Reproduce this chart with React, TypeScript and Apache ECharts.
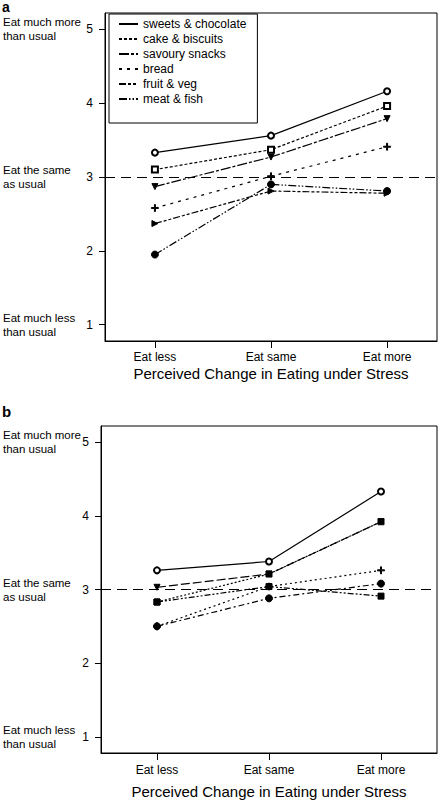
import React, { useEffect, useRef } from "react";
import * as echarts from "echarts";

// ---------- data ----------
const categories = ["Eat less", "Eat same", "Eat more"];
const yTickValues = [1, 2, 3, 4, 5];
const yDescriptorValues = [1, 3, 5];
const yDescriptorLabels = ["Eat much less\nthan usual", "Eat the same\nas usual", "Eat much more\nthan usual"];
const xTitle = "Perceived Change in Eating under Stress";
const panelLabels = ["a", "b"];
const referenceLevel = 3;

// panel a
const seriesNamesA = ["sweets & chocolate", "cake & biscuits", "savoury snacks", "bread", "fruit & veg", "meat & fish"];
const sweetsA = [3.33, 3.56, 4.16];
const cakeA = [3.1, 3.37, 3.96];
const savouryA = [2.87, 3.27, 3.79];
const breadA = [2.58, 3.01, 3.41];
const fruitA = [2.37, 2.81, 2.78];
const meatA = [1.95, 2.9, 2.81];

// panel b
const seriesNamesB = ["b1", "b2", "b3", "b4", "b5", "b6"];
const b1 = [3.26, 3.38, 4.33];
const b2 = [3.03, 3.21, 3.92];
const b3 = [2.5, 3.04, 3.26];
const b4 = [2.5, 2.88, 3.08];
const b5 = [2.83, 3.04, 2.91];
const b6 = [2.83, 3.21, 3.92];

// ---------- styles ----------
const FONT = "Liberation Sans, Arial, sans-serif";
const PLUS = "path://M3,0H4V3H7V4H4V7H3V4H0V3H3Z";

type Sty = { dash: any; symbol: string; size: number; rotate?: number };
const stylesA: Sty[] = [
  { dash: "solid", symbol: "emptyCircle", size: 6 },
  { dash: [3, 2], symbol: "emptyRect", size: 6 },
  { dash: [10, 2, 3, 2], symbol: "triangle", size: 6, rotate: 180 },
  { dash: [3, 5], symbol: PLUS, size: 7 },
  { dash: [7, 2, 3, 2, 3, 2], symbol: "triangle", size: 6, rotate: -90 },
  { dash: [8, 2, 1.5, 2, 1.5, 2], symbol: "circle", size: 7 },
];
const stylesB: Sty[] = [
  { dash: "solid", symbol: "emptyCircle", size: 6 },
  { dash: [9, 3], symbol: "triangle", size: 6, rotate: 180 },
  { dash: [2, 3], symbol: PLUS, size: 7 },
  { dash: [6, 3, 2, 3], symbol: "circle", size: 7 },
  { dash: [6, 2, 2, 2, 2, 2], symbol: "rect", size: 6 },
  { dash: [2, 2], symbol: "rect", size: 6 },
];

function makeSeries(name: string, vals: number[], panel: number, st: Sty, withRef: boolean) {
  const s: any = {
    type: "line",
    name,
    xAxisIndex: panel,
    yAxisIndex: panel * 2,
    data: vals.map((v, i) => [i + 1, v]),
    lineStyle: { color: "#000", width: 1.2, type: st.dash },
    itemStyle: { color: "#000", borderColor: "#000", borderWidth: 1 },
    symbol: st.symbol,
    symbolSize: st.size,
    symbolRotate: st.rotate || 0,
    showSymbol: true,
    silent: true,
  };
  if (withRef) {
    s.markLine = {
      silent: true,
      symbol: "none",
      label: { show: false },
      lineStyle: { color: "#000", width: 1.2, type: [10, 6] },
      data: [{ yAxis: referenceLevel }],
    };
  }
  return s;
}

const grids = [
  { left: 104, top: 13, width: 333, height: 328 },
  { left: 100, top: 426, width: 337, height: 327 },
];
const xRanges = [
  [0.57, 3.43],
  [0.5, 3.5],
];
const yRange = [0.78, 5.22];
const xNameGaps = [25, 31];
const xLabelMargins = [10, 11];
const descMargins = [102, 98];

function buildOption() {
  const dataA = [sweetsA, cakeA, savouryA, breadA, fruitA, meatA];
  const dataB = [b1, b2, b3, b4, b5, b6];
  const series: any[] = [];
  dataA.forEach((d, i) => series.push(makeSeries(seriesNamesA[i], d, 0, stylesA[i], i === 0)));
  dataB.forEach((d, i) => series.push(makeSeries(seriesNamesB[i], d, 1, stylesB[i], i === 0)));

  const xAxis = grids.map((_, p) => ({
    type: "value",
    gridIndex: p,
    min: xRanges[p][0],
    max: xRanges[p][1],
    name: xTitle,
    nameLocation: "middle",
    nameGap: xNameGaps[p],
    nameTextStyle: { fontSize: 15, color: "#000", fontFamily: FONT },
    axisLine: { show: true, lineStyle: { color: "#000", width: 1 } },
    axisTick: { show: true, length: 7, lineStyle: { color: "#000" }, customValues: [1, 2, 3] },
    axisLabel: {
      show: true,
      customValues: [1, 2, 3],
      margin: xLabelMargins[p],
      fontSize: 12,
      color: "#000",
      fontFamily: FONT,
      formatter: (v: number) => categories[Math.round(v) - 1] ?? "",
    },
    splitLine: { show: false },
  }));

  const yAxis: any[] = [];
  grids.forEach((_, p) => {
    yAxis.push({
      type: "value",
      gridIndex: p,
      min: yRange[0],
      max: yRange[1],
      axisLine: { show: true, lineStyle: { color: "#000", width: 1 } },
      axisTick: { show: true, length: 6, lineStyle: { color: "#000" }, customValues: yTickValues },
      axisLabel: { customValues: yTickValues, margin: 12, fontSize: 12, color: "#000", fontFamily: FONT },
      splitLine: { show: false },
    });
    yAxis.push({
      type: "value",
      gridIndex: p,
      position: "left",
      min: yRange[0],
      max: yRange[1],
      axisLine: { show: false },
      axisTick: { show: false },
      splitLine: { show: false },
      axisLabel: {
        customValues: yDescriptorValues,
        align: "left",
        margin: descMargins[p],
        fontSize: 11.5,
        lineHeight: 14,
        color: "#000",
        fontFamily: FONT,
        formatter: (v: number) => yDescriptorLabels[yDescriptorValues.indexOf(Math.round(v))] ?? "",
      },
    });
  });

  return {
    animation: false,
    backgroundColor: "#fff",
    textStyle: { fontFamily: FONT },
    title: [
      { text: panelLabels[0], left: 2, top: 0, padding: 0, textStyle: { fontSize: 14, lineHeight: 14, fontWeight: "bold", color: "#000", fontFamily: FONT } },
      { text: panelLabels[1], left: 2, top: 404, padding: 0, textStyle: { fontSize: 15, lineHeight: 15, fontWeight: "bold", color: "#000", fontFamily: FONT } },
    ],
    legend: {
      data: seriesNamesA,
      orient: "vertical",
      left: 109,
      top: 14,
      padding: [4, 11, 18, 9],
      itemWidth: 19,
      itemHeight: 12,
      itemGap: 3,
      borderColor: "#000",
      borderWidth: 1,
      backgroundColor: "#fff",
      selectedMode: false,
      itemStyle: { opacity: 0 },
      textStyle: { fontSize: 12, color: "#000", fontFamily: FONT },
    },
    grid: grids.map((g) => ({ ...g, show: true, borderColor: "#000", borderWidth: 1, backgroundColor: "transparent", containLabel: false })),
    xAxis,
    yAxis,
    series,
  };
}

export default function App() {
  const ref = useRef<HTMLDivElement>(null);
  useEffect(() => {
    if (!ref.current) return;
    const chart = echarts.init(ref.current, undefined, { renderer: "svg" });
    chart.setOption(buildOption() as any);
    return () => chart.dispose();
  }, []);
  return <div ref={ref} style={{ position: "absolute", left: 0, top: 0, width: 440, height: 801 }} />;
}
